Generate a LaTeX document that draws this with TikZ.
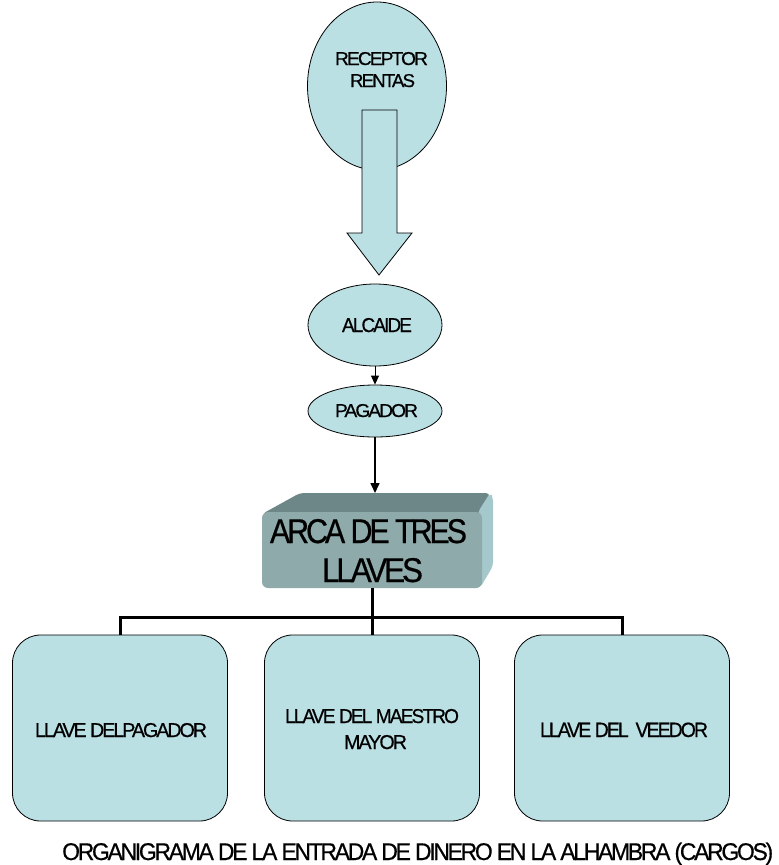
\documentclass[tikz,border=0pt]{standalone}
\usepackage{fontspec}
\setmainfont{Liberation Sans}
\usetikzlibrary{shapes.geometric,arrows.meta}
\definecolor{lt}{HTML}{BAE0E4}
\definecolor{arcafront}{HTML}{8EAAAB}
\definecolor{arcatop}{HTML}{6D8788}
\definecolor{arcaright}{HTML}{A5C8CC}
\newfontfamily\tightfont[LetterSpace=-10,FakeBold=0.6]{Liberation Sans}
% fit a line of text to a measured width and cap height
\newcommand{\fitt}[3]{\resizebox{#1pt}{#2pt}{\fontsize{20}{20}\tightfont #3}}
\begin{document}
\begin{tikzpicture}[x=1pt,y=-1pt,
  oval/.style={ellipse, draw=black, line width=0.8pt, fill=lt, inner sep=0pt},
  keybox/.style={rectangle, rounded corners=28pt, draw=black, line width=0.8pt, fill=lt, minimum width=215pt, minimum height=186pt, inner sep=0pt},
  treeline/.style={line width=3pt},
  txt/.style={inner sep=0pt, text=black, anchor=base}]
\useasboundingbox (0,0) rectangle (779,865);

% RECEPTOR circle
\node[oval, minimum width=139pt, minimum height=168pt] (rec) at (377,86) {};
\node[txt] (rect1) at (381.5,65) {\fitt{93}{13}{RECEPTOR}};
\node[txt] (rect2) at (382.5,87) {\fitt{65}{13}{RENTAS}};

% Block arrow
\draw[line width=0.8pt, fill=lt] (362,110) -- (397,110) -- (397,233) -- (412,233) -- (379,275) -- (347,233) -- (362,233) -- cycle;

% ALCAIDE and PAGADOR
\node[oval, minimum width=134pt, minimum height=82pt] (alc) at (375,325) {};
\node[txt] (alct) at (377,332) {\fitt{70}{14}{ALCAIDE}};
\node[oval, minimum width=134pt, minimum height=52pt] (pag) at (375,411) {};
\node[txt] (pagt) at (376.5,417) {\fitt{83}{13}{PAGADOR}};
\draw[line width=0.8pt, -{Triangle[width=8pt,length=9pt]}] (alc.south) -- (pag.north);

% ARCA DE TRES LLAVES
\fill[arcatop, rounded corners=4pt] (262,514) -- (300,493) -- (490,493) -- (484,514) -- cycle;
\fill[arcaright, rounded corners=4pt] (478,512) -- (490,493) -- (493,497) -- (493,566) -- (480,588) -- cycle;
\node[rectangle, rounded corners=6pt, fill=arcafront, minimum width=220pt, minimum height=76pt, inner sep=0pt] (arca) at (372,550) {};
\node[txt] (arcat1) at (368.5,543) {\fitt{197}{24}{ARCA DE TRES}};
\node[txt] (arcat2) at (372.5,582) {\fitt{101}{24}{LLAVES}};
\draw[line width=1.6pt, -{Triangle[width=9pt,length=10pt]}] (pag.south) -- (375,493);

% Keys
\node[keybox] (k1) at (120,728) {};
\node[keybox] (k2) at (372,728) {};
\node[keybox] (k3) at (622,728) {};
\node[txt] (k1t) at (121,737) {\fitt{172}{14}{LLAVE DELPAGADOR}};
\node[txt] (k2t1) at (372,723) {\fitt{174}{14}{LLAVE DEL MAESTRO}};
\node[txt] (k2t2) at (375.5,749) {\fitt{63}{14}{MAYOR}};
\node[txt] (k3t) at (624,737) {\fitt{168}{14.5}{LLAVE DEL\ \ VEEDOR}};

\coordinate (bus) at (372,617);
\draw[treeline] (arca.south) -- (bus);
\draw[treeline] (k1.north) |- (bus);
\draw[treeline] (k3.north) |- (bus);
\draw[treeline] (k2.north) -- (bus);

% Caption
\node[txt, anchor=base west] (cap) at (62,860) {\fitt{711}{17.5}{ORGANIGRAMA DE LA ENTRADA DE DINERO EN LA ALHAMBRA (CARGOS)}};
\end{tikzpicture}
\end{document}
